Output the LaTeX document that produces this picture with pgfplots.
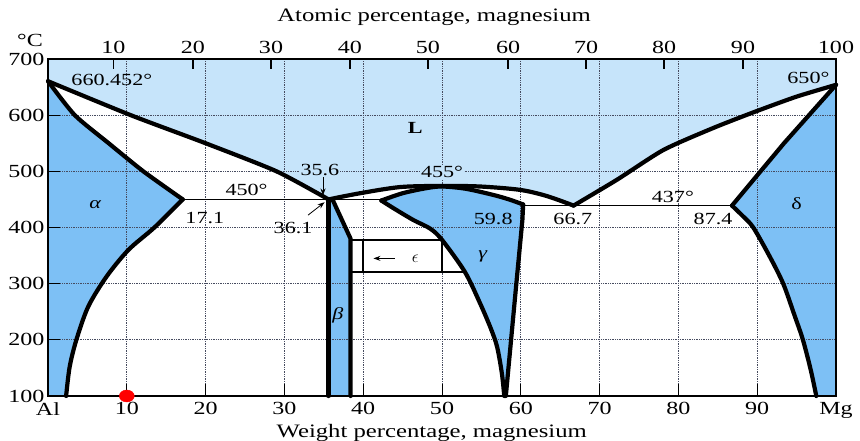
\documentclass[border=0pt]{standalone}
\usepackage{fontspec}
\setmainfont{Liberation Serif}[FakeStretch=1.3]
\usepackage{pgfplots}
\pgfplotsset{compat=1.18}
\usetikzlibrary{arrows.meta}
\definecolor{lblue}{RGB}{198,228,250}
\definecolor{dblue}{RGB}{125,192,245}
\definecolor{gridc}{RGB}{70,75,95}
\begin{document}
\begin{tikzpicture}
\useasboundingbox (0,0) rectangle (860pt,441pt);
\begin{axis}[
  at={(48pt,45pt)}, anchor=south west,
  scale only axis, width=788pt, height=337pt,
  xmin=0, xmax=100, ymin=100, ymax=700,
  clip=false, axis on top,
  xtick={0,10,20,30,40,50,60,70,80,90,100},
  xticklabels={Al,10,20,30,40,50,60,70,80,90,Mg},
  ytick={100,200,300,400,500,600,700},
  yticklabels={100,200,300,400,500,600,700},
  xtick pos=left, ytick pos=left,
  tick align=inside, major tick length=12pt,
  every tick/.style={black,line width=0.8pt},
  axis line style={line width=1.3pt},
  ticklabel style={font=\fontsize{18.5}{22}\selectfont},
  xticklabel style={yshift=-3pt},
  font=\fontsize{17}{20}\selectfont,
]
% liquid region
\addplot[fill=lblue,draw=none] coordinates {(0,700)(0,660.45)(10.5,600)(20,550)(29,500)(35.6,450)(39.6,461)(44.7,472)(50,474)(54.8,473)(59.9,467)(63.3,456)(66.7,439)(72.2,485)(78.1,538)(84.4,577)(89.7,606)(95,633)(100,654)(100,700)};
% alpha
\addplot[fill=dblue,draw=none] coordinates {(0,660.45)(3.4,600)(7.7,550)(12.1,500)(17.1,450)(13.5,400)(10.2,360)(7.4,312)(5.1,259)(3.6,200)(2.75,152)(2.3,100)(0,100)};
% beta
\addplot[fill=dblue,draw=none] coordinates {(35.6,450)(36.1,450)(38.4,380)(38.4,100)(35.6,100)};
% gamma
\addplot[fill=dblue,draw=none] coordinates {(42.3,448)(45,461)(48,470)(50,473)(53,469)(56.5,458)(58.5,450)(60.3,441)(60.2,413)(59.4,295)(58.1,100)(57.9,100)(57.6,140)(57.0,187)(56.2,220)(54.8,266)(52.9,321)(50,378)(48.5,398)(46.4,413)(44,433)(42.3,448)};
% delta
\addplot[fill=dblue,draw=none] coordinates {(100,654)(93.4,550)(86.8,439)(88.2,420)(89.5,400)(91.6,348)(93.3,300)(94.7,245)(95.8,200)(96.8,146)(97.5,100)(100,100)};
% grid
\pgfplotsinvokeforeach{10,20,30,40,50,60,70,80,90}{\draw[gridc,densely dotted,line width=0.75pt] (axis cs:#1,100) -- (axis cs:#1,700);}
\pgfplotsinvokeforeach{200,300,400,500,600}{\draw[gridc,densely dotted,line width=0.75pt] (axis cs:0,#1) -- (axis cs:100,#1);}
% thin lines
\addplot[black,line width=1.6pt] coordinates {(17.1,450)(42.3,450)};
\addplot[black,line width=1.6pt] coordinates {(60.3,439)(86.8,439)};
\addplot[black,line width=1.6pt] coordinates {(38.4,378)(50,378)};
\addplot[black,line width=1.6pt] coordinates {(38.4,321)(52.9,321)};
\addplot[black,line width=1.6pt] coordinates {(40,321)(40,378)};
\addplot[black,line width=1.6pt] coordinates {(50,321)(50,378)};
% thick curves
\tikzset{pb/.style={black,line width=4.2pt,line join=round,line cap=round}}
\addplot[pb,smooth,tension=0.4] coordinates {(0,660.45)(10.5,600)(20,550)(29,500)(35.6,450)};
\addplot[pb,smooth,tension=0.4] coordinates {(0,660.45)(3.4,600)(7.7,550)(12.1,500)(17.1,450)};
\addplot[pb,smooth,tension=0.5] coordinates {(17.1,450)(13.5,400)(10.2,360)(7.4,312)(5.1,259)(3.6,200)(2.75,152)(2.3,100)};
\addplot[pb] coordinates {(35.6,450)(35.6,100)};
\addplot[pb] coordinates {(36.1,450)(38.4,380)(38.4,100)};
\addplot[pb,smooth,tension=0.5] coordinates {(35.6,450)(39.6,461)(44.7,472)(50,474)(54.8,473)(59.9,467)(63.3,456)(66.7,439)};
\addplot[pb,smooth,tension=0.5] coordinates {(42.3,448)(45,461)(48,470)(50,473)(53,469)(56.5,458)(58.5,450)(60.3,441)};
\addplot[pb] coordinates {(60.3,441)(60.2,413)(59.4,295)(58.1,100)};
\addplot[pb,smooth,tension=0.5] coordinates {(42.3,448)(44,433)(46.4,413)(48.5,398)(50,378)(52.9,321)(54.8,266)(56.2,220)(57.0,187)(57.6,140)(57.9,100)};
\addplot[pb,smooth,tension=0.4] coordinates {(66.7,439)(72.2,485)(78.1,538)(84.4,577)(89.7,606)(95,633)(100,654)};
\addplot[pb] coordinates {(100,654)(93.4,550)(86.8,439)};
\addplot[pb,smooth,tension=0.5] coordinates {(86.8,439)(88.2,420)(89.5,400)(91.6,348)(93.3,300)(94.7,245)(95.8,200)(96.8,146)(97.5,100)};
% arrows
\draw[-{Stealth[length=7pt,width=5pt]},line width=0.8pt] (axis cs:34.9,490) -- (axis cs:34.9,457);
\draw[-{Stealth[length=7pt,width=5pt]},line width=0.8pt] (axis cs:33.0,422) -- (axis cs:35.1,445);
\draw[-{Stealth[length=7pt,width=5pt]},line width=0.8pt] (axis cs:44.0,345) -- (axis cs:41.3,345);
% labels
\node at (axis cs:8.1,663) {660.452°};
\node at (axis cs:96.5,666) {650°};
\node at (axis cs:46.6,578) {\textbf{L}};
\node[fill=lblue,inner sep=1pt] at (axis cs:34.5,502) {35.6};
\node at (axis cs:25.2,466) {450°};
\node[fill=lblue,inner sep=1pt] at (axis cs:50,499) {455°};
\node at (axis cs:6.0,440) {\textit{α}};
\node at (axis cs:19.9,417) {17.1};
\node at (axis cs:31.1,399) {36.1};
\node at (axis cs:56.5,415) {59.8};
\node at (axis cs:66.6,415) {66.7};
\node at (axis cs:79.3,455) {437°};
\node at (axis cs:84.4,415) {87.4};
\node at (axis cs:95,443) {δ};
\node at (axis cs:55.2,348) {\textit{γ}};
\node at (axis cs:36.8,244) {\textit{β}};
\node at (axis cs:46.6,345) {$\epsilon$};
\node[font=\fontsize{18.5}{22}\selectfont] at ([xshift=-18pt,yshift=19pt]rel axis cs:0,1) {°C};
\node[font=\fontsize{19}{22}\selectfont] at ([yshift=-37pt]rel axis cs:0.487,0) {Weight percentage, magnesium};
\end{axis}
\begin{axis}[
  at={(48pt,45pt)}, anchor=south west,
  scale only axis, width=788pt, height=337pt,
  xmin=0, xmax=100, ymin=100, ymax=700,
  clip=false,
  axis x line*=top, axis y line=none,
  xtick={8.3,18.4,28.3,38.3,48.2,58.4,68.3,78.2,88.2,100},
  xticklabels={10,20,30,40,50,60,70,80,90,100},
  tick align=inside, major tick length=10pt,
  every tick/.style={black,line width=1.6pt},
  axis line style={line width=1.3pt},
  ticklabel style={font=\fontsize{18.5}{22}\selectfont},
  xticklabel style={yshift=2pt},
]
\addplot[only marks,mark=*,mark size=6pt,red,mark options={fill=red,xscale=1.25}] coordinates {(10,100)};
\node[font=\fontsize{19}{22}\selectfont] at ([yshift=42pt]rel axis cs:0.49,1) {Atomic percentage, magnesium};
\end{axis}
\end{tikzpicture}
\end{document}
